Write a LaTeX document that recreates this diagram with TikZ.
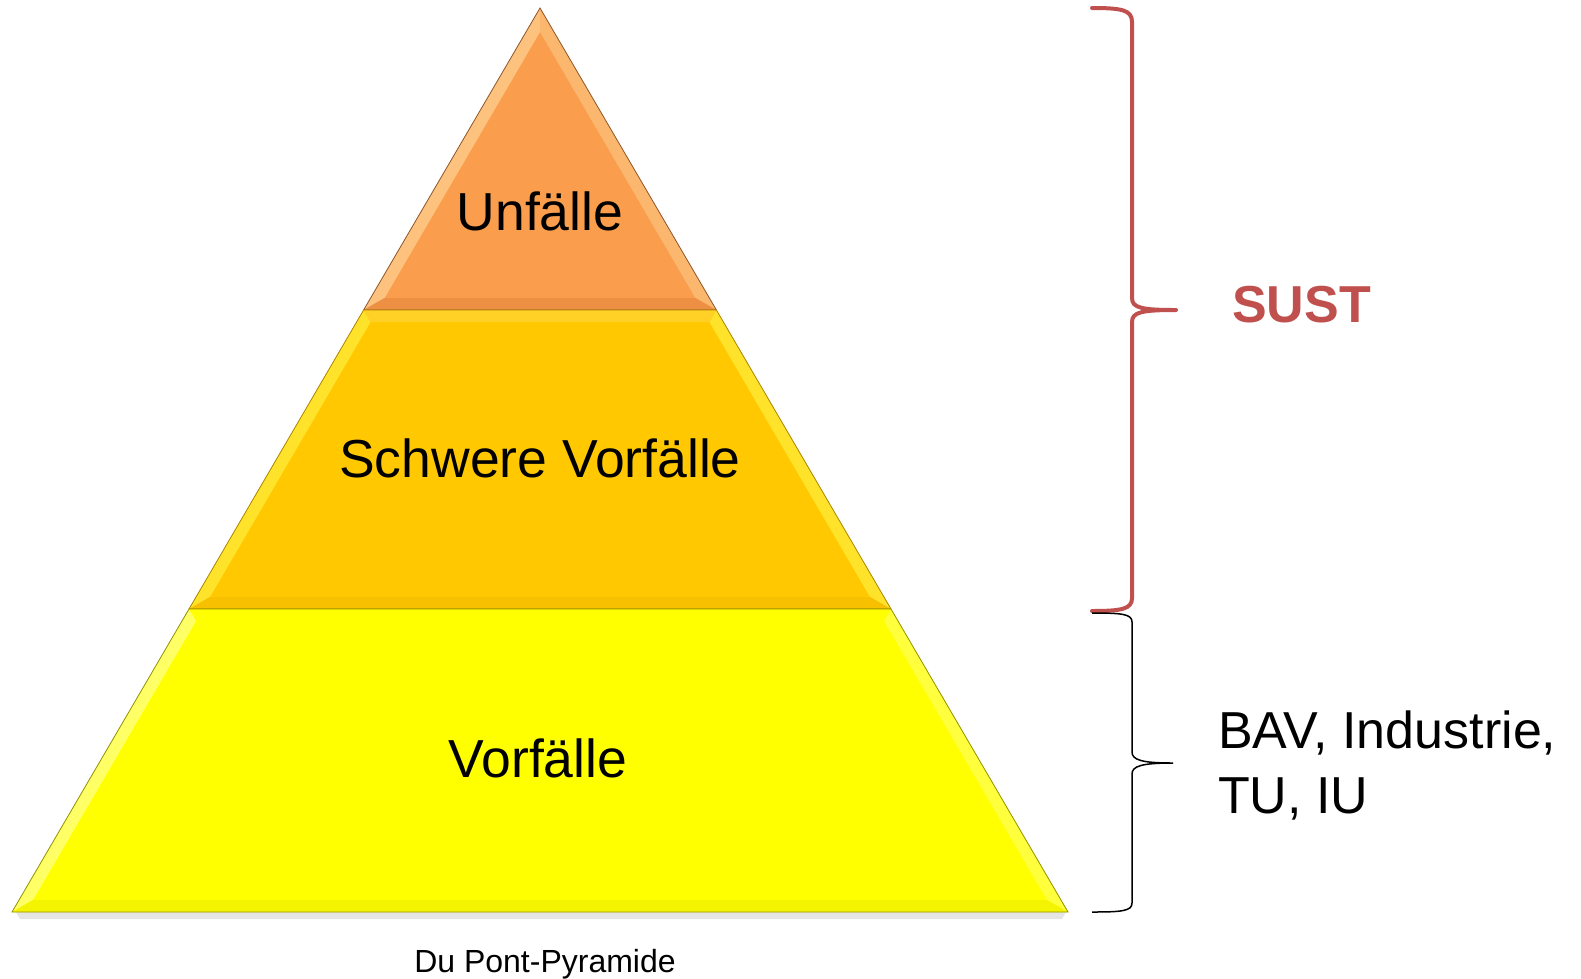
\documentclass[tikz,border=0pt]{standalone}
\usepackage{fontspec}
\setmainfont{Liberation Sans}
\usetikzlibrary{positioning}

\definecolor{topfill}{HTML}{FA9D4C}
\definecolor{toplight}{HTML}{FDC27E}
\definecolor{topdark}{HTML}{EE9044}
\definecolor{midfill}{HTML}{FFC800}
\definecolor{midlight}{HTML}{FFE22A}
\definecolor{middark}{HTML}{F7C000}
\definecolor{lowfill}{HTML}{FFFF00}
\definecolor{lowlight}{HTML}{FFFF66}
\definecolor{lowdark}{HTML}{F4F400}
\definecolor{sustred}{HTML}{C0504D}

\begin{document}
\begin{tikzpicture}[x=1pt,y=-1pt,
    tiertext/.style={font=\fontsize{53.5}{60}\selectfont,text=black,inner sep=0pt},
    sidetext/.style={font=\fontsize{52}{60}\selectfont,text=black,inner sep=0pt,anchor=base west},
    redbrace/.style={draw=sustred,line width=4pt,line cap=round,line join=round},
    blackbrace/.style={draw=black,line width=1.5pt}]
    \useasboundingbox (0,0) rectangle (1581,978);

    % shadow under the base
    \fill[black!10] (16,912) -- (1066,912) -- (1062,919) -- (20,919) -- cycle;

    % top tier
    \fill[topfill] (540,8) -- (716.4,310) -- (363.6,310) -- cycle;
    \fill[toplight] (540,8) -- (363.6,310) -- (384.6,298) -- (540,32) -- cycle;
    \fill[toplight!70!topfill] (540,8) -- (716.4,310) -- (695.4,298) -- (540,32) -- cycle;
    \fill[topdark] (363.6,310) -- (716.4,310) -- (695.4,298) -- (384.6,298) -- cycle;
    \draw[topdark!60!black,line width=0.8pt] (540,8) -- (716.4,310) -- (363.6,310) -- cycle;

    % middle tier
    \fill[midfill] (363.6,310) -- (716.4,310) -- (891,609) -- (189,609) -- cycle;
    \fill[midlight] (363.6,310) -- (189,609) -- (210,597) -- (370.6,322) -- cycle;
    \fill[midlight] (716.4,310) -- (891,609) -- (870,597) -- (709.4,322) -- cycle;
    \fill[middark] (189,609) -- (891,609) -- (870,597) -- (210,597) -- cycle;
    \fill[midfill!85!white] (363.6,310) -- (716.4,310) -- (709.4,322) -- (370.6,322) -- cycle;
    \draw[middark!70!black,line width=0.8pt] (363.6,310) -- (716.4,310) -- (891,609) -- (189,609) -- cycle;

    % bottom tier
    \fill[lowfill] (189,609) -- (891,609) -- (1068,912) -- (12,912) -- cycle;
    \fill[lowlight] (189,609) -- (12,912) -- (33,900) -- (196,621) -- cycle;
    \fill[lowlight!60!lowfill] (891,609) -- (1068,912) -- (1047,900) -- (884,621) -- cycle;
    \fill[lowdark] (12,912) -- (1068,912) -- (1047,900) -- (33,900) -- cycle;
    \draw[lowdark!60!black,line width=0.8pt] (189,609) -- (891,609) -- (1068,912) -- (12,912) -- cycle;

    % tier labels
    \node[tiertext,anchor=base] (unfaelle) at (540,230) {Unfälle};
    \node[tiertext,anchor=base] (schwere) at (540,477) {Schwere Vorfälle};
    \node[tiertext,anchor=base] (vorfaelle) at (538,777) {Vorfälle};
    \node[font=\fontsize{32}{36}\selectfont,inner sep=0pt,anchor=base] (caption) at (545,972) {Du Pont-Pyramide};

    % braces
    \coordinate (susttip) at (1176,310);
    \coordinate (bavtip) at (1173,763);
    \draw[redbrace] (1092,8) .. controls (1122,8) and (1132,10) .. (1132,22) -- (1132,298)
        .. controls (1132,308) and (1142,310) .. (susttip)
        .. controls (1142,310) and (1132,312) .. (1132,322) -- (1132,598)
        .. controls (1132,609) and (1122,611) .. (1092,611);
    \draw[blackbrace] (1092,613) .. controls (1122,613) and (1132,614) .. (1132,622) -- (1132,752)
        .. controls (1132,760) and (1142,763) .. (bavtip)
        .. controls (1142,763) and (1132,766) .. (1132,774) -- (1132,903)
        .. controls (1132,911) and (1122,912) .. (1092,912);

    % side labels
    \node[font=\fontsize{52}{60}\selectfont\bfseries,text=sustred,inner sep=0pt,anchor=base west] (sust) at (1232,322) {SUST};
    \node[sidetext] (bav) at (1218,748) {BAV, Industrie,};
    \node[sidetext] (tuiu) at (1218,813) {TU, IU};
\end{tikzpicture}
\end{document}
